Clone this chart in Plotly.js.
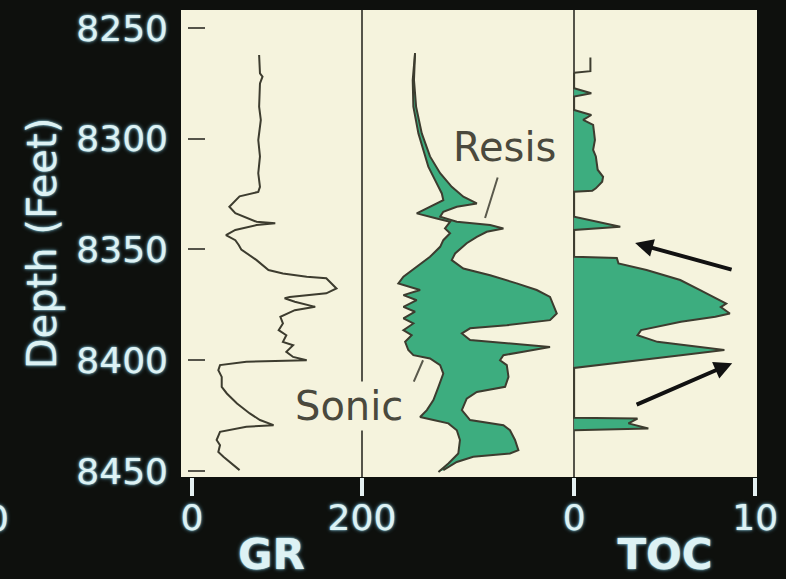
<!DOCTYPE html>
<html><head><meta charset="utf-8">
<script src="https://cdn.plot.ly/plotly-3.0.1.min.js"></script>
<style>html,body{margin:0;padding:0;background:#0e100d;} #chart{width:786px;height:579px;}</style>
</head><body><div id="chart"></div>
<script>
// ---------- DATA ----------
const depthTicks = [8250, 8300, 8350, 8400, 8450];
const grTicks = [0, 200];
const tocTicks = [0, 10];

// Gamma ray (API)
const grDepth = [8262.2, 8270.5, 8272, 8275, 8285.5, 8291.5, 8300.6, 8308, 8315.6, 8321.7, 8324, 8326, 8330.7, 8333.6, 8337.5, 8338.2, 8339, 8341.2, 8343.5, 8345.8, 8348, 8350, 8354.8, 8359.3, 8360.8, 8362.3, 8363, 8367.6, 8369.8, 8371.4, 8372, 8373.6, 8375.9, 8377.4, 8380.4, 8383.4, 8386.4, 8388.7, 8391.7, 8393.2, 8396.2, 8398.5, 8400, 8400.3, 8400.7, 8402.2, 8404.5, 8407.5, 8412, 8415, 8419.5, 8424, 8427, 8429.3, 8430, 8432.3, 8436, 8438.3, 8441.4, 8443.6, 8447.4, 8449.6];
const grValue = [79, 80, 83, 80, 79, 81, 78, 80, 78, 80, 78, 56, 44, 51, 76, 98, 76, 51, 40, 51, 55, 58, 76, 90, 107, 135, 158, 170, 158, 115, 109, 121, 145, 121, 104, 107, 102, 111, 107, 119, 111, 119, 135, 104, 64, 33, 31, 35, 35, 41, 53, 68, 80, 96, 64, 33, 29, 33, 31, 37, 49, 56];

// Sonic (left edge of shaded overlay, relative track units 0-100)
const sonicDepth = [8261.4, 8273.5, 8285.5, 8297.6, 8305, 8312.6, 8318.7, 8324.7, 8327.7, 8333.7, 8336, 8337.5, 8340.5, 8342.7, 8345.8, 8348.8, 8353.3, 8357.8, 8362.3, 8365.3, 8368.3, 8370.6, 8372.9, 8375.9, 8378.1, 8381.1, 8383.4, 8386.4, 8388.7, 8391.7, 8395.4, 8397.7, 8399.2, 8402.2, 8406, 8412, 8418, 8422.5, 8425.6, 8427, 8428.5, 8431.6, 8436, 8442.1, 8446.6, 8450.4];
const sonicValue = [25.1, 24, 24.3, 26.7, 29, 31.4, 34.6, 37.8, 38.5, 25.9, 35.4, 41.7, 39.3, 41.7, 38.5, 37, 32.2, 25.9, 19.6, 17.2, 27.5, 19.6, 25.9, 19.6, 25.1, 19.6, 24.3, 19.6, 23.5, 20.4, 21.9, 24.3, 32.2, 37, 38.5, 36.2, 33.8, 30.7, 27.5, 33.8, 40.9, 44.9, 46.4, 45.6, 40.9, 36.2];

// Resistivity (right edge of shaded overlay, relative track units 0-100)
const resisDepth = [8261.4, 8273.5, 8285.5, 8297.6, 8308, 8315.6, 8321.7, 8326.2, 8329.2, 8330.7, 8333, 8335.2, 8337.5, 8339, 8340.5, 8342, 8344.3, 8347.2, 8351.8, 8354.8, 8358.6, 8361.6, 8365.3, 8368.3, 8371.4, 8378.9, 8381.9, 8384.2, 8385.6, 8387.9, 8390.9, 8392.4, 8394, 8396.2, 8397.7, 8400, 8402.2, 8407.5, 8412, 8414.3, 8417.3, 8422.5, 8427, 8429.3, 8431.6, 8436, 8440.6, 8442.1, 8443.6, 8445.9, 8449.6];
const resisValue = [25.1, 24.6, 25.6, 28.3, 32.2, 37, 42.5, 48, 54.4, 44.9, 38.5, 37, 44.9, 60.7, 67, 59.1, 54.4, 49.6, 44.1, 42.5, 48, 60.7, 73.3, 82.8, 89.1, 92.3, 89.1, 68.6, 51.2, 47.3, 51.2, 68.6, 89.1, 76.4, 67, 65.4, 68.6, 69.4, 67.8, 54.4, 49.6, 47.3, 51.2, 67, 70.1, 72.5, 74.1, 70.1, 52.7, 44.9, 38.5];

// Total organic carbon (wt %): unshaded top reading, then shaded log
const tocTopDepth = [8263.3, 8269.5, 8270.2];
const tocTopValue = [0.9, 0.9, 0];
const tocDepth = [8270.2, 8277.2, 8279.5, 8281, 8287, 8289.3, 8291.5, 8293.8, 8297, 8300.6, 8305, 8308, 8314, 8317.2, 8319.4, 8322.4, 8323.5, 8323.9, 8335.2, 8339.7, 8341.2, 8353.3, 8353.8, 8356.3, 8359.3, 8363.8, 8368.3, 8371.4, 8374.4, 8376, 8378.9, 8380.4, 8382.6, 8386.4, 8388.7, 8391.7, 8394, 8395.4, 8397.7, 8401.5, 8403.3, 8403.5, 8426, 8426.3, 8428.5, 8430.8, 8431.6];
const tocValue = [0, 0, 0.95, 0, 0, 0.95, 0.5, 1.05, 1.1, 1.15, 1.05, 1.2, 1.3, 1.6, 1.55, 1.2, 1.0, 0, 0, 2.55, 0, 0, 2.36, 2.45, 4.0, 5.86, 6.96, 7.7, 8.4, 8.1, 8.6, 7.8, 5.9, 3.7, 3.5, 4.6, 6.9, 8.3, 5.9, 2.2, 0.3, 0, 0, 3.5, 3.0, 4.1, 0];

// ---------- STYLE ----------
const cream = '#f5f3dd';
const ink = '#3d3c2f';
const green = '#3dad7f';
const labelCol = '#ddf2f4';
const glow = '0px 0px 2px rgba(170,225,240,0.95), 0px 0px 4px rgba(110,185,215,0.75)';
const fam = '"DejaVu Sans", "Liberation Sans", sans-serif';

const traces = [
  {x: grValue, y: grDepth, xaxis: 'x', yaxis: 'y', mode: 'lines', line: {color: ink, width: 2}, hoverinfo: 'skip'},
  {x: sonicValue, y: sonicDepth, xaxis: 'x2', yaxis: 'y', mode: 'lines', line: {color: ink, width: 2}, hoverinfo: 'skip'},
  {x: resisValue, y: resisDepth, xaxis: 'x2', yaxis: 'y', mode: 'lines', line: {color: ink, width: 2}, fill: 'tonextx', fillcolor: green, hoverinfo: 'skip'},
  {x: tocTopValue, y: tocTopDepth, xaxis: 'x3', yaxis: 'y', mode: 'lines', line: {color: ink, width: 2}, hoverinfo: 'skip'},
  {x: tocValue, y: tocDepth, xaxis: 'x3', yaxis: 'y', mode: 'lines', line: {color: ink, width: 2}, fill: 'tozerox', fillcolor: green, hoverinfo: 'skip'}
];

const tickFont = {family: fam, size: 36, color: labelCol, shadow: glow};
const titleFont = {family: fam, size: 42, weight: 'bold', color: labelCol, shadow: glow};

const layout = {
  width: 786, height: 579,
  margin: {l: 181, r: 29, t: 10, b: 102},
  paper_bgcolor: '#0e100d',
  plot_bgcolor: cream,
  showlegend: false,
  yaxis: {
    range: [8452.7, 8241.9], tickvals: depthTicks, ticktext: depthTicks.map(String),
    anchor: 'free', position: 0.0104,
    ticks: 'inside', ticklen: 17, tickwidth: 2, tickcolor: '#55544a',
    showgrid: false, zeroline: false, showline: false,
    tickfont: tickFont, ticklabelstandoff: 19,
    title: {text: 'Depth (Feet)', font: {family: fam, size: 40, color: labelCol, shadow: glow}, standoff: 6}
  },
  xaxis: {
    domain: [0, 0.3142], range: [-12.9, 200], tickvals: grTicks,
    ticks: 'outside', ticklen: 18, tickwidth: 4, tickcolor: '#e4f0f0',
    showgrid: false, zeroline: false, showline: false,
    tickfont: tickFont, ticklabelstandoff: -9,
    title: {text: 'GR', font: titleFont, standoff: 16}
  },
  xaxis2: {
    domain: [0.310, 0.6806], range: [-1.2, 100], anchor: 'y',
    showticklabels: false, ticks: '', showgrid: false,
    zeroline: true, zerolinecolor: '#55544a', zerolinewidth: 2, showline: false
  },
  xaxis3: {
    domain: [0.6806, 1], range: [-0.06, 10.1], anchor: 'y', tickvals: tocTicks,
    ticks: 'outside', ticklen: 18, tickwidth: 4, tickcolor: '#e4f0f0',
    showgrid: false, zeroline: true, zerolinecolor: '#55544a', zerolinewidth: 2, showline: false,
    tickfont: tickFont, ticklabelstandoff: -9,
    title: {text: 'TOC', font: titleFont, standoff: 16}
  },
  annotations: [
    {text: 'Resis', xref: 'x2', yref: 'y', x: 67.3, y: 8303.6, showarrow: false,
     font: {family: fam, size: 40, color: '#4a493d'}},
    {text: '', xref: 'x2', yref: 'y', x: 58.3, y: 8335.8, axref: 'x2', ayref: 'y', ax: 64.5, ay: 8316.8,
     showarrow: true, arrowhead: 0, arrowwidth: 2, arrowcolor: '#5a594c'},
    {text: 'Sonic', xref: 'paper', yref: 'y', x: 0.2917, y: 8420.7, xanchor: 'center', yanchor: 'middle', showarrow: false,
     bgcolor: cream, font: {family: fam, size: 40, color: '#4a493d'}},
    {text: '', xref: 'x2', yref: 'y', x: 28.9, y: 8400, axref: 'x2', ayref: 'y', ax: 24.2, ay: 8410.3,
     showarrow: true, arrowhead: 0, arrowwidth: 2, arrowcolor: '#5a594c'},
    {text: '', xref: 'x3', yref: 'y', x: 3.37, y: 8347.1, axref: 'x3', ayref: 'y', ax: 8.78, ay: 8359.3,
     showarrow: true, arrowhead: 2, arrowsize: 0.9, arrowwidth: 4, arrowcolor: '#111111'},
    {text: '', xref: 'x3', yref: 'y', x: 8.73, y: 8401.3, axref: 'x3', ayref: 'y', ax: 3.37, ay: 8420.3,
     showarrow: true, arrowhead: 2, arrowsize: 0.9, arrowwidth: 4, arrowcolor: '#111111'},
    {text: '0', xref: 'paper', yref: 'paper', x: -0.318, y: -0.0878, xanchor: 'center', yanchor: 'middle', showarrow: false,
     font: tickFont}
  ]
};

Plotly.newPlot('chart', traces, layout, {staticPlot: true, displayModeBar: false});
</script>
</body></html>
